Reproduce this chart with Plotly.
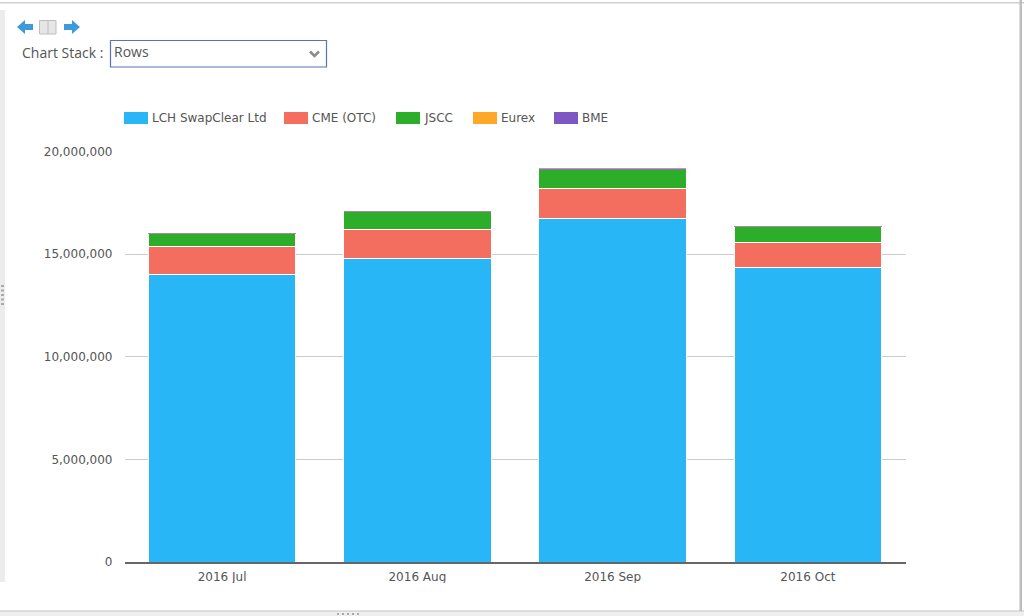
import plotly.graph_objects as go

months = ['2016 Jul', '2016 Aug', '2016 Sep', '2016 Oct']
lch = [14020000, 14800000, 16720000, 14340000]
cme = [1340000, 1390000, 1460000, 1240000]
jscc = [650000, 900000, 980000, 780000]
eurex = [12000, 3000, 10000, 8000]
bme = [30000, 5000, 30000, 20000]

names = ['LCH SwapClear Ltd', 'CME (OTC)', 'JSCC', 'Eurex', 'BME']
colors = ['#29b6f6', '#f46e60', '#2dae2a', '#ffa726', '#7e57c2']
series = [lch, cme, jscc, eurex, bme]
line_widths = [1, 1, 1, 0, 0]
opacities = [1, 1, 1, 0.6, 0.6]
yticks = [0, 5000000, 10000000, 15000000, 20000000]

W, H = 1024, 616


def px(x):
    return x / W


def py(y):
    return 1 - y / H


def rect(x0, y0, x1, y1, fill, line=None, lw=0, layer='above'):
    return dict(type='rect', xref='paper', yref='paper', layer=layer,
                x0=px(x0), y0=py(y0), x1=px(x1), y1=py(y1), fillcolor=fill,
                line=dict(color=line or fill, width=lw))


def poly(points, fill, line=None, lw=0, close=True):
    p = 'M' + ' L'.join(f'{px(x):.5f},{py(y):.5f}' for x, y in points)
    return dict(type='path', xref='paper', yref='paper', path=p + (' Z' if close else ''),
                fillcolor=fill, line=dict(color=line or fill, width=lw))


def label(x, y, text, size, color, font='DejaVu Sans'):
    return dict(xref='paper', yref='paper', x=px(x), y=py(y), text=text, showarrow=False,
                xanchor='left', yanchor='middle', xshift=0, borderpad=0,
                font=dict(family=font, size=size, color=color))


fig = go.Figure()
for name, vals, c, lw, op in zip(names, series, colors, line_widths, opacities):
    fig.add_trace(go.Bar(x=months, y=vals, name=name, opacity=op,
                         marker=dict(color=c, line=dict(color='white', width=lw))))

#%% page furniture
shapes = [
    rect(0, 583, W, 611, 'white'),
    rect(0, 10, 5, 582, '#ececec'),
    rect(0, 2, W, 3.5, '#cfcfcf'),
    rect(0, 611, W, 616, '#efefef'),
    rect(0, 610.5, W, 611.5, '#c4c4c4'),
    rect(1019.5, 0, 1022, 611, '#bdbdbd'),
    # dropdown
    rect(110.5, 40.5, 326.5, 67, 'white', '#5d6fc0', 1.2),
    poly([(310, 51.5), (314.5, 56), (319, 51.5)], 'rgba(0,0,0,0)', '#8c8c8c', 2.6, close=False),
    # back, columns, forward icons
    poly([(17, 27), (25, 20), (25, 24), (33, 24), (33, 30), (25, 30), (25, 34)], '#3d9bdc'),
    rect(39.5, 20.5, 56, 34, '#e6e6e6', '#bdbdbd', 1),
    rect(47.5, 20.5, 48.5, 34, '#bdbdbd'),
    poly([(80, 27), (72, 20), (72, 24), (64, 24), (64, 30), (72, 30), (72, 34)], '#3d9bdc'),
]
for i in range(5):
    shapes.append(rect(1, 285 + i * 4.5, 4, 287 + i * 4.5, '#a8a8a8'))
    shapes.append(rect(337 + i * 5, 613, 339 + i * 5, 615, '#a8a8a8'))

annotations = [
    label(21, 53, 'Chart Stack :', 14, '#555555', 'Open Sans'),
    label(113, 52, 'Rows', 14, '#555555', 'Open Sans'),
]

# legend drawn by hand, the swatches are wider than plotly's own
legend_x = [124, 284, 396, 473, 554]
for lx, name, c in zip(legend_x, names, colors):
    shapes.append(rect(lx, 112, lx + 24, 124, c))
    annotations.append(label(lx + 27, 118, name, 12, '#555555'))

fig.update_layout(
    width=W, height=H, autosize=False,
    barmode='stack', bargap=0.245, showlegend=False,
    paper_bgcolor='white', plot_bgcolor='white',
    margin=dict(l=0, r=0, t=0, b=0),
    font=dict(family='DejaVu Sans', size=12, color='#555555'),
    shapes=shapes, annotations=annotations,
    xaxis=dict(domain=[px(124.5), px(905.5)], range=[-0.5, 3.5], type='category', automargin=False,
               showgrid=False, showline=True, linecolor='#666666', linewidth=1.5,
               ticks='', ticklabelstandoff=3, anchor='y', fixedrange=True),
    yaxis=dict(domain=[py(562), py(151.5)], range=[0, 20000000], tickvals=yticks, automargin=False,
               tickformat=',d', showgrid=True, gridcolor='#cccccc', gridwidth=1,
               zeroline=False, showline=False, ticks='', ticklabelstandoff=11, fixedrange=True),
)

fig.write_html('out.html', config=dict(displayModeBar=False),
               post_script="document.body.style.margin='0';")
